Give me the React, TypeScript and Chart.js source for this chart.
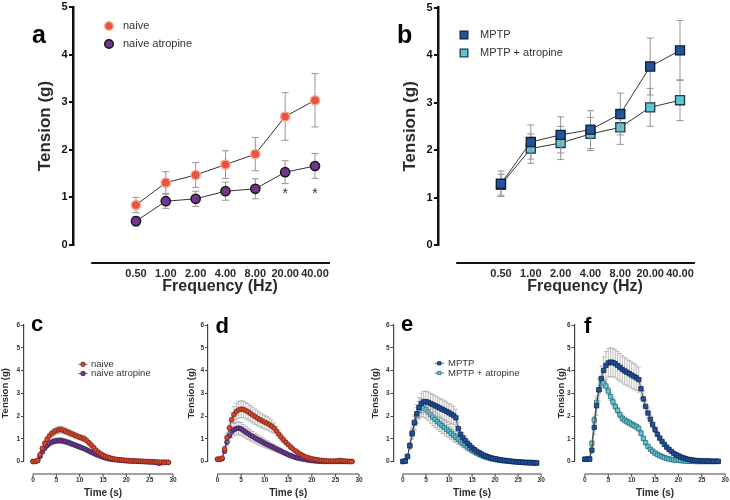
import React, { useEffect, useRef } from "react";
import { Chart, registerables } from "chart.js";

Chart.register(...registerables);

const FONT = "'Liberation Sans', Arial, Helvetica, sans-serif";

// ---------- Frequency panels (a, b) ----------
const FREQ_LABELS = ["0.50", "1.00", "2.00", "4.00", "8.00", "20.00", "40.00"];
const TENSION_TICKS_UPPER = [0, 1, 2, 3, 4, 5];

const NAIVE_FREQ = [0.84, 1.31, 1.47, 1.69, 1.91, 2.7, 3.04];
const NAIVE_FREQ_ERR = [0.16, 0.23, 0.26, 0.29, 0.35, 0.5, 0.56];
const NAIVE_ATR_FREQ = [0.5, 0.92, 0.97, 1.13, 1.18, 1.53, 1.66];
const NAIVE_ATR_FREQ_ERR = [0.1, 0.15, 0.16, 0.19, 0.21, 0.24, 0.26];
const MPTP_FREQ = [1.29, 2.17, 2.32, 2.43, 2.76, 3.76, 4.1];
const MPTP_FREQ_ERR = [0.27, 0.36, 0.38, 0.4, 0.44, 0.6, 0.63];
const MPTP_ATR_FREQ = [1.27, 2.03, 2.15, 2.34, 2.48, 2.9, 3.05];
const MPTP_ATR_FREQ_ERR = [0.22, 0.31, 0.35, 0.35, 0.36, 0.4, 0.43];
const SIG_MARKS = ["", "", "", "", "", "*", "*"];
const SIG_LEVEL = 1.07;

// ---------- Time-course panels (c-f) ----------
const TIME = [0, 0.5, 1, 1.5, 2, 2.5, 3, 3.5, 4, 4.5, 5, 5.5, 6, 6.5, 7, 7.5, 8, 8.5, 9, 9.5, 10, 10.5, 11, 11.5, 12, 12.5, 13, 13.5, 14, 14.5, 15, 15.5, 16, 16.5, 17, 17.5, 18, 18.5, 19, 19.5, 20, 20.5, 21, 21.5, 22, 22.5, 23, 23.5, 24, 24.5, 25, 25.5, 26, 26.5, 27, 27.5, 28, 28.5, 29];
const TIME_TICKS = [0, 5, 10, 15, 20, 25, 30];
const TENSION_TICKS_LOWER = [0, 1, 2, 3, 4, 5, 6];

const C_NAIVE = [0, 0, 0.05, 0.3, 0.58, 0.8, 0.97, 1.12, 1.23, 1.3, 1.36, 1.39, 1.4, 1.37, 1.33, 1.29, 1.24, 1.2, 1.15, 1.11, 1.07, 1.03, 1.0, 0.92, 0.82, 0.72, 0.61, 0.5, 0.41, 0.34, 0.28, 0.23, 0.19, 0.16, 0.13, 0.11, 0.09, 0.08, 0.07, 0.06, 0.05, 0.04, 0.03, 0.03, 0.02, 0.02, 0.01, 0.01, 0, 0, -0.01, -0.01, -0.02, -0.02, -0.03, -0.03, -0.03, -0.04, -0.04];
const C_NAIVE_ERR = [0, 0, 0.02, 0.05, 0.08, 0.1, 0.12, 0.13, 0.14, 0.15, 0.15, 0.15, 0.15, 0.15, 0.14, 0.14, 0.14, 0.13, 0.13, 0.13, 0.12, 0.12, 0.12, 0.11, 0.1, 0.09, 0.08, 0.07, 0.06, 0.05, 0.05, 0.04, 0.04, 0.03, 0.03, 0.03, 0.02, 0.02, 0.02, 0.02, 0.02, 0.02, 0.02, 0.02, 0.02, 0.02, 0.02, 0.02, 0.02, 0.02, 0.02, 0.02, 0.02, 0.02, 0.03, 0.03, 0.03, 0.03, 0.03];
const C_ATR = [0, 0, 0.04, 0.22, 0.42, 0.58, 0.7, 0.79, 0.85, 0.89, 0.91, 0.92, 0.92, 0.9, 0.87, 0.84, 0.8, 0.76, 0.72, 0.68, 0.64, 0.6, 0.56, 0.51, 0.46, 0.41, 0.36, 0.31, 0.27, 0.23, 0.19, 0.16, 0.13, 0.11, 0.09, 0.08, 0.07, 0.06, 0.05, 0.04, 0.03, 0.03, 0.02, 0.02, 0.01, 0.01, 0, 0, -0.01, -0.01, -0.02, -0.02, -0.03, -0.04, -0.08, -0.05, -0.04, -0.04, -0.04];
const C_ATR_ERR = [0, 0, 0.02, 0.04, 0.07, 0.09, 0.1, 0.11, 0.12, 0.12, 0.12, 0.12, 0.12, 0.12, 0.11, 0.11, 0.11, 0.1, 0.1, 0.1, 0.09, 0.09, 0.08, 0.08, 0.07, 0.07, 0.06, 0.05, 0.05, 0.04, 0.04, 0.03, 0.03, 0.03, 0.02, 0.02, 0.02, 0.02, 0.02, 0.02, 0.02, 0.02, 0.02, 0.02, 0.02, 0.02, 0.02, 0.02, 0.02, 0.02, 0.02, 0.02, 0.02, 0.03, 0.06, 0.03, 0.02, 0.02, 0.02];

const D_NAIVE = [0.1, 0.1, 0.15, 0.55, 1.05, 1.48, 1.84, 2.06, 2.2, 2.27, 2.3, 2.29, 2.24, 2.18, 2.11, 2.04, 1.97, 1.9, 1.84, 1.78, 1.73, 1.68, 1.62, 1.55, 1.47, 1.34, 1.2, 1.07, 0.95, 0.84, 0.74, 0.64, 0.55, 0.47, 0.4, 0.33, 0.27, 0.22, 0.18, 0.15, 0.12, 0.1, 0.08, 0.06, 0.05, 0.04, 0.03, 0.02, 0.02, 0.02, 0.02, 0.03, 0.05, 0.03, 0.02, 0.01, 0, 0];
const D_NAIVE_ERR = [0.02, 0.02, 0.04, 0.12, 0.2, 0.27, 0.32, 0.35, 0.36, 0.37, 0.37, 0.37, 0.36, 0.36, 0.35, 0.35, 0.34, 0.33, 0.32, 0.31, 0.3, 0.29, 0.28, 0.26, 0.23, 0.2, 0.17, 0.14, 0.12, 0.1, 0.08, 0.07, 0.06, 0.05, 0.04, 0.04, 0.03, 0.03, 0.02, 0.02, 0.02, 0.02, 0.02, 0.02, 0.02, 0.02, 0.02, 0.02, 0.02, 0.02, 0.02, 0.02, 0.02, 0.02, 0.02, 0.02, 0.02, 0.02];
const D_ATR = [0.1, 0.1, 0.12, 0.45, 0.85, 1.12, 1.3, 1.4, 1.45, 1.47, 1.43, 1.36, 1.29, 1.22, 1.15, 1.09, 1.03, 0.97, 0.92, 0.86, 0.8, 0.75, 0.7, 0.65, 0.6, 0.55, 0.5, 0.45, 0.4, 0.35, 0.3, 0.26, 0.22, 0.18, 0.15, 0.13, 0.11, 0.09, 0.07, 0.05, 0.04, 0.03, 0.02, 0.01, 0.01, 0, 0, 0, 0, 0, 0, 0, 0, 0, 0, 0, 0, 0];
const D_ATR_ERR = [0.02, 0.02, 0.03, 0.1, 0.17, 0.22, 0.25, 0.27, 0.28, 0.28, 0.28, 0.27, 0.26, 0.25, 0.24, 0.23, 0.22, 0.21, 0.2, 0.19, 0.18, 0.17, 0.16, 0.15, 0.14, 0.13, 0.12, 0.11, 0.1, 0.09, 0.08, 0.07, 0.06, 0.05, 0.04, 0.04, 0.03, 0.03, 0.02, 0.02, 0.02, 0.02, 0.02, 0.02, 0.02, 0.02, 0.02, 0.02, 0.02, 0.02, 0.02, 0.02, 0.02, 0.02, 0.02, 0.02, 0.02, 0.02];

const E_MPTP = [0, 0.02, 0.22, 0.7, 1.25, 1.72, 2.1, 2.38, 2.55, 2.62, 2.63, 2.6, 2.55, 2.5, 2.45, 2.4, 2.35, 2.3, 2.25, 2.2, 2.14, 2.08, 2.02, 1.92, 1.45, 1.2, 1.05, 0.92, 0.8, 0.7, 0.6, 0.52, 0.45, 0.39, 0.33, 0.28, 0.24, 0.2, 0.17, 0.14, 0.12, 0.1, 0.08, 0.06, 0.05, 0.04, 0.02, 0.01, 0, -0.01, -0.02, -0.03, -0.04, -0.05, -0.05, -0.06, -0.06, -0.07, -0.07];
const E_MPTP_ERR = [0.01, 0.02, 0.06, 0.15, 0.25, 0.33, 0.39, 0.43, 0.45, 0.46, 0.46, 0.46, 0.45, 0.45, 0.44, 0.44, 0.43, 0.43, 0.42, 0.42, 0.41, 0.41, 0.4, 0.38, 0.3, 0.25, 0.21, 0.18, 0.15, 0.13, 0.11, 0.09, 0.08, 0.07, 0.06, 0.05, 0.04, 0.04, 0.03, 0.03, 0.02, 0.02, 0.02, 0.02, 0.02, 0.02, 0.02, 0.02, 0.02, 0.02, 0.02, 0.02, 0.02, 0.02, 0.02, 0.02, 0.02, 0.02, 0.02];
const E_ATR = [0, 0.02, 0.22, 0.68, 1.2, 1.68, 2.02, 2.25, 2.36, 2.35, 2.28, 2.18, 2.06, 1.95, 1.85, 1.75, 1.66, 1.57, 1.49, 1.41, 1.33, 1.24, 1.15, 1.07, 0.98, 0.89, 0.8, 0.72, 0.64, 0.56, 0.49, 0.43, 0.37, 0.32, 0.27, 0.23, 0.19, 0.16, 0.13, 0.11, 0.09, 0.07, 0.05, 0.04, 0.03, 0.02, 0.01, 0, -0.01, -0.01, -0.02, -0.02, -0.03, -0.03, -0.04, -0.04, -0.04, -0.05, -0.05];
const E_ATR_ERR = [0.01, 0.02, 0.06, 0.14, 0.22, 0.3, 0.35, 0.38, 0.4, 0.4, 0.4, 0.39, 0.38, 0.37, 0.36, 0.35, 0.34, 0.33, 0.32, 0.31, 0.3, 0.28, 0.27, 0.25, 0.23, 0.21, 0.19, 0.17, 0.15, 0.13, 0.11, 0.09, 0.08, 0.07, 0.06, 0.05, 0.04, 0.04, 0.03, 0.03, 0.02, 0.02, 0.02, 0.02, 0.02, 0.02, 0.02, 0.02, 0.02, 0.02, 0.02, 0.02, 0.02, 0.02, 0.02, 0.02, 0.02, 0.02, 0.02];

const F_MPTP = [0.1, 0.1, 0.1, 0.5, 1.5, 2.45, 3.15, 3.65, 4.0, 4.22, 4.33, 4.37, 4.35, 4.3, 4.22, 4.14, 4.05, 3.98, 3.92, 3.86, 3.8, 3.74, 3.68, 3.6, 3.2, 2.75, 2.42, 2.13, 1.86, 1.62, 1.4, 1.2, 1.03, 0.88, 0.75, 0.63, 0.53, 0.44, 0.36, 0.3, 0.25, 0.2, 0.16, 0.13, 0.1, 0.08, 0.06, 0.05, 0.04, 0.03, 0.03, 0.02, 0.02, 0.02, 0.01, 0.01, 0.01, 0.01];
const F_MPTP_ERR = [0.02, 0.02, 0.02, 0.15, 0.3, 0.42, 0.5, 0.55, 0.6, 0.62, 0.63, 0.63, 0.63, 0.62, 0.62, 0.61, 0.6, 0.6, 0.59, 0.58, 0.58, 0.57, 0.56, 0.55, 0.45, 0.35, 0.28, 0.22, 0.18, 0.15, 0.12, 0.1, 0.08, 0.07, 0.06, 0.05, 0.04, 0.04, 0.03, 0.03, 0.02, 0.02, 0.02, 0.02, 0.02, 0.02, 0.02, 0.02, 0.02, 0.02, 0.02, 0.02, 0.02, 0.02, 0.02, 0.02, 0.02, 0.02];
const F_ATR = [0.1, 0.1, 0.12, 0.8, 1.82, 2.6, 3.15, 3.42, 3.45, 3.32, 3.1, 2.85, 2.62, 2.42, 2.25, 2.05, 1.9, 1.82, 1.75, 1.7, 1.64, 1.59, 1.53, 1.45, 1.25, 1.02, 0.82, 0.66, 0.54, 0.45, 0.37, 0.31, 0.26, 0.21, 0.17, 0.14, 0.11, 0.09, 0.07, 0.06, 0.05, 0.04, 0.03, 0.02, 0.02, 0.01, 0.01, 0, 0, 0, 0, 0, 0, 0, 0, 0, 0, 0];
const F_ATR_ERR = [0.02, 0.02, 0.03, 0.1, 0.15, 0.18, 0.2, 0.2, 0.2, 0.19, 0.18, 0.17, 0.16, 0.15, 0.14, 0.13, 0.13, 0.13, 0.13, 0.13, 0.13, 0.13, 0.13, 0.12, 0.1, 0.08, 0.07, 0.06, 0.05, 0.04, 0.04, 0.03, 0.03, 0.03, 0.02, 0.02, 0.02, 0.02, 0.02, 0.02, 0.02, 0.02, 0.02, 0.02, 0.02, 0.02, 0.02, 0.02, 0.02, 0.02, 0.02, 0.02, 0.02, 0.02, 0.02, 0.02, 0.02, 0.02];

// ---------- styles ----------
const STYLE = {
  naiveUpper: { pointStyle: "circle", r: 4.6, bg: "#E8553F", border: "#F4A894", bw: 1.5 },
  atrUpper: { pointStyle: "circle", r: 4.6, bg: "#73368F", border: "#161616", bw: 1.5 },
  mptpUpper: { pointStyle: "rect", r: 6.4, bg: "#24539E", border: "#0d1d3a", bw: 1.3 },
  mptpAtrUpper: { pointStyle: "rect", r: 6.4, bg: "#5DC7D6", border: "#1d3a48", bw: 1.3 },
  naiveLower: { pointStyle: "circle", r: 2.35, bg: "#D9452F", border: "#7c2515", bw: 0.8 },
  atrLower: { pointStyle: "circle", r: 2.35, bg: "#6E3B8E", border: "#3a1a50", bw: 0.8 },
  mptpLower: { pointStyle: "rect", r: 3.1, bg: "#24529C", border: "#0f2a55", bw: 0.8 },
  mptpAtrLower: { pointStyle: "rect", r: 3.1, bg: "#5DC5D3", border: "#2a6a7a", bw: 0.8 },
};

function drawMarker(ctx: CanvasRenderingContext2D, style: string, x: number, y: number, r: number, bg: string, border: string, bw: number) {
  ctx.beginPath();
  if (style === "rect") {
    const s = r * Math.SQRT1_2;
    ctx.rect(x - s, y - s, 2 * s, 2 * s);
  } else {
    ctx.arc(x, y, r, 0, Math.PI * 2);
  }
  ctx.fillStyle = bg;
  ctx.fill();
  if (bw > 0) {
    ctx.lineWidth = bw;
    ctx.strokeStyle = border;
    ctx.stroke();
  }
}

function makeErrorBars(color: string, width: number, cap: number) {
  return {
    id: "errbars",
    beforeDatasetDraw(chart: any, args: any) {
      const ds = chart.data.datasets[args.index];
      if (!ds.errors) return;
      const ys = chart.scales.y;
      const ctx = chart.ctx;
      ctx.save();
      ctx.strokeStyle = color;
      ctx.lineWidth = width;
      ctx.beginPath();
      args.meta.data.forEach((pt: any, i: number) => {
        const v = ds.data[i].y;
        const e = ds.errors[i];
        if (e == null || v == null) return;
        const x = pt.x;
        const yt = ys.getPixelForValue(v + e);
        const yb = ys.getPixelForValue(v - e);
        ctx.moveTo(x, yt);
        ctx.lineTo(x, yb);
        ctx.moveTo(x - cap, yt);
        ctx.lineTo(x + cap, yt);
        ctx.moveTo(x - cap, yb);
        ctx.lineTo(x + cap, yb);
      });
      ctx.stroke();
      ctx.restore();
    },
  };
}

function makeDeco(o: any) {
  return {
    id: "deco",
    afterDraw(chart: any) {
      const ctx = chart.ctx;
      const xs = chart.scales.x;
      const ys = chart.scales.y;
      const area = chart.chartArea;
      ctx.save();
      // offset x axis
      const ay = area.bottom + o.axisOffset;
      ctx.strokeStyle = o.axisColor;
      ctx.lineWidth = o.axisWidth;
      ctx.beginPath();
      ctx.moveTo(xs.getPixelForValue(o.axisFrom), ay);
      ctx.lineTo(xs.getPixelForValue(o.axisTo), ay);
      ctx.stroke();
      if (o.axisTickLen > 0) {
        ctx.lineWidth = 1;
        ctx.beginPath();
        for (const v of o.axisTicks) {
          const x = xs.getPixelForValue(v);
          ctx.moveTo(x, ay);
          ctx.lineTo(x, ay + o.axisTickLen);
        }
        ctx.stroke();
      }
      // x title
      ctx.fillStyle = "#2b2b2b";
      ctx.font = `bold ${o.xTitleSize}px ${FONT}`;
      ctx.textAlign = "center";
      ctx.textBaseline = "middle";
      ctx.fillText(o.xTitle, xs.getPixelForValue(o.xTitleAt), o.xTitleY);
      // panel letter
      ctx.fillStyle = "#000";
      ctx.font = `bold ${o.letterSize}px ${FONT}`;
      ctx.textAlign = "left";
      ctx.textBaseline = "alphabetic";
      ctx.fillText(o.letter, o.letterX, o.letterY);
      // legend
      if (o.showLegend) {
        chart.data.datasets.forEach((ds: any, i: number) => {
          const y = o.legendY + i * o.legendDy;
          if (o.legendLine) {
            ctx.strokeStyle = "#333";
            ctx.lineWidth = 0.8;
            ctx.beginPath();
            ctx.moveTo(o.legendX - 4.5, y);
            ctx.lineTo(o.legendX + 4.5, y);
            ctx.stroke();
          }
          drawMarker(ctx, ds.pointStyle, o.legendX, y, o.legendRadius, ds.pointBackgroundColor, ds.pointBorderColor, ds.pointBorderWidth);
          ctx.fillStyle = "#333";
          ctx.font = `${o.legendSize}px ${FONT}`;
          ctx.textAlign = "left";
          ctx.textBaseline = "middle";
          ctx.fillText(ds.label, o.legendTextX, y);
        });
      }
      // significance marks
      if (o.stars) {
        ctx.fillStyle = "#333";
        ctx.font = `${o.starSize}px ${FONT}`;
        ctx.textAlign = "center";
        ctx.textBaseline = "middle";
        o.stars.forEach((s: string, i: number) => {
          if (!s) return;
          ctx.fillText(s, xs.getPixelForValue(i), ys.getPixelForValue(o.starLevel));
        });
      }
      ctx.restore();
    },
  };
}

function dataset(label: string, xs: number[], ys: number[], errs: number[], st: any, lineColor: string, lineWidth: number) {
  return {
    label,
    data: ys.map((v, i) => ({ x: xs[i], y: v })),
    errors: errs,
    pointStyle: st.pointStyle,
    pointRadius: st.r,
    pointBackgroundColor: st.bg,
    pointBorderColor: st.border,
    pointBorderWidth: st.bw,
    borderColor: lineColor,
    borderWidth: lineWidth,
    tension: 0,
    fill: false,
    clip: false,
  };
}

const INDEX = FREQ_LABELS.map((_, i) => i);

function buildUpper(datasets: any[], deco: any) {
  const tickFont = { family: FONT, size: 11, weight: "bold" as const };
  return {
    type: "line" as const,
    data: { datasets },
    options: {
      responsive: false,
      animation: false as const,
      events: [],
      layout: { padding: { top: 7, right: 30, bottom: 0, left: 0 } },
      plugins: { legend: { display: false }, tooltip: { enabled: false } },
      scales: {
        x: {
          type: "linear" as const,
          min: -2.11,
          max: 6.67,
          afterBuildTicks: (s: any) => {
            s.ticks = INDEX.map((v) => ({ value: v }));
          },
          afterFit: (s: any) => {
            s.height = 55;
            s.paddingLeft = 0;
            s.paddingRight = 0;
          },
          ticks: {
            autoSkip: false,
            maxRotation: 0,
            minRotation: 0,
            padding: 22.5,
            color: "#2b2b2b",
            font: tickFont,
            callback: (v: any) => FREQ_LABELS[v],
          },
          grid: { display: false, drawTicks: false },
          border: { display: false },
        },
        y: {
          min: 0,
          max: 5,
          afterBuildTicks: (s: any) => {
            s.ticks = TENSION_TICKS_UPPER.map((v) => ({ value: v }));
          },
          afterFit: (s: any) => {
            s.width = 73;
            s.paddingTop = 0;
            s.paddingBottom = 0;
          },
          ticks: { padding: 1.5, color: "#111", font: { family: FONT, size: 11, weight: "bold" as const } },
          grid: { display: true, drawOnChartArea: false, drawTicks: true, tickLength: 4, color: "#111", lineWidth: 2 },
          border: { display: true, color: "#111", width: 2.5 },
          title: {
            display: true,
            text: "Tension (g)",
            color: "#2b2b2b",
            font: { family: FONT, size: 17, weight: "bold" as const },
            padding: { top: 34.8, bottom: 0 },
          },
        },
      },
    },
    plugins: [makeErrorBars("#959595", 1, 3.5), makeDeco(deco)],
  };
}

function buildLower(datasets: any[], p: any, deco: any) {
  return {
    type: "line" as const,
    data: { datasets },
    options: {
      responsive: false,
      animation: false as const,
      events: [],
      layout: { padding: { top: 15, right: p.right, bottom: 0, left: 0 } },
      plugins: { legend: { display: false }, tooltip: { enabled: false } },
      scales: {
        x: {
          type: "linear" as const,
          min: p.xMin,
          max: 30,
          afterBuildTicks: (s: any) => {
            s.ticks = TIME_TICKS.map((v) => ({ value: v }));
          },
          afterFit: (s: any) => {
            s.height = 38.5;
            s.paddingLeft = 0;
            s.paddingRight = 0;
          },
          ticks: {
            autoSkip: false,
            maxRotation: 0,
            minRotation: 0,
            padding: 15.3,
            color: "#333",
            font: { family: FONT, size: 6.5, weight: "bold" as const },
          },
          grid: { display: false, drawTicks: false },
          border: { display: false },
        },
        y: {
          min: 0,
          max: 6,
          afterBuildTicks: (s: any) => {
            s.ticks = TENSION_TICKS_LOWER.map((v) => ({ value: v }));
          },
          afterFit: (s: any) => {
            s.width = p.left;
            s.paddingTop = 0;
            s.paddingBottom = 0;
          },
          ticks: { padding: 0.8, color: "#333", font: { family: FONT, size: 6.5, weight: "bold" as const } },
          grid: { display: true, drawOnChartArea: false, drawTicks: true, tickLength: 3, color: "#444", lineWidth: 1 },
          border: { display: true, color: "#444", width: 1.2 },
          title: {
            display: true,
            text: "Tension (g)",
            color: "#2b2b2b",
            font: { family: FONT, size: 9.5, weight: "bold" as const },
            padding: { top: p.titlePad, bottom: 0 },
          },
        },
      },
    },
    plugins: [makeErrorBars("#a0a0a0", 0.7, 2), makeDeco(deco)],
  };
}

const upperDeco = (letter: string, lx: number, ly: number, ldy: number, ltx: number, lr: number, stars?: string[]) => ({
  axisFrom: -1.5,
  axisTo: 6.5,
  axisOffset: 18,
  axisColor: "#111",
  axisWidth: 2,
  axisTicks: [],
  axisTickLen: 0,
  xTitle: "Frequency (Hz)",
  xTitleAt: 2.82,
  xTitleY: 287,
  xTitleSize: 16,
  letter,
  letterX: 32,
  letterY: 43,
  letterSize: 25,
  showLegend: true,
  legendX: lx,
  legendY: ly,
  legendDy: ldy,
  legendTextX: ltx,
  legendSize: 11,
  legendLine: false,
  legendRadius: lr,
  stars,
  starLevel: SIG_LEVEL,
  starSize: 14,
});

const lowerDeco = (letter: string, lx: number, ly: number, showLegend: boolean, legX: number, legY: number, legDy: number, legTextX: number) => ({
  axisFrom: 0,
  axisTo: 30,
  axisOffset: 12.5,
  axisColor: "#444",
  axisWidth: 1.2,
  axisTicks: TIME_TICKS,
  axisTickLen: 3,
  xTitle: "Time (s)",
  xTitleAt: 15,
  xTitleY: 183,
  xTitleSize: 10,
  letter,
  letterX: lx,
  letterY: ly,
  letterSize: 22,
  showLegend,
  legendX: legX,
  legendY: legY,
  legendDy: legDy,
  legendTextX: legTextX,
  legendSize: 9.5,
  legendLine: true,
  legendRadius: 2.3,
});

function ChartBox({ left, top, width, height, make }: { left: number; top: number; width: number; height: number; make: () => any }) {
  const ref = useRef<HTMLCanvasElement>(null);
  useEffect(() => {
    const chart = new Chart(ref.current as HTMLCanvasElement, make());
    return () => chart.destroy();
  }, []);
  return (
    <div style={{ position: "absolute", left, top, width, height }}>
      <canvas ref={ref} width={width} height={height} style={{ width, height, display: "block" }} />
    </div>
  );
}

export default function App() {
  return (
    <div style={{ position: "absolute", left: 0, top: 0, width: 730, height: 500, background: "#fff" }}>
      <ChartBox
        left={0}
        top={0}
        width={365}
        height={300}
        make={() =>
          buildUpper(
            [
              dataset("naive", INDEX, NAIVE_FREQ, NAIVE_FREQ_ERR, STYLE.naiveUpper, "#333", 1),
              dataset("naive atropine", INDEX, NAIVE_ATR_FREQ, NAIVE_ATR_FREQ_ERR, STYLE.atrUpper, "#333", 1),
            ],
            upperDeco("a", 109, 26, 18, 123, 4.3, SIG_MARKS)
          )
        }
      />
      <ChartBox
        left={365}
        top={0}
        width={365}
        height={300}
        make={() =>
          buildUpper(
            [
              dataset("MPTP", INDEX, MPTP_FREQ, MPTP_FREQ_ERR, STYLE.mptpUpper, "#333", 1),
              dataset("MPTP + atropine", INDEX, MPTP_ATR_FREQ, MPTP_ATR_FREQ_ERR, STYLE.mptpAtrUpper, "#333", 1),
            ],
            upperDeco("b", 99, 35, 18, 115, 5.4)
          )
        }
      />
      <ChartBox
        left={0}
        top={310}
        width={182}
        height={190}
        make={() =>
          buildLower(
            [
              dataset("naive", TIME, C_NAIVE, C_NAIVE_ERR, STYLE.naiveLower, "#333", 0.8),
              dataset("naive atropine", TIME, C_ATR, C_ATR_ERR, STYLE.atrLower, "#333", 0.8),
            ],
            { left: 24, right: 9, xMin: -1.93, titlePad: 0 },
            lowerDeco("c", 31, 21, true, 83, 54.3, 9.2, 91)
          )
        }
      />
      <ChartBox
        left={182}
        top={310}
        width={182}
        height={190}
        make={() =>
          buildLower(
            [
              dataset("naive", TIME, D_NAIVE, D_NAIVE_ERR, STYLE.naiveLower, "#333", 0.8),
              dataset("naive atropine", TIME, D_ATR, D_ATR_ERR, STYLE.atrLower, "#333", 0.8),
            ],
            { left: 26, right: 5, xMin: -2.01, titlePad: 4 },
            lowerDeco("d", 33.5, 22.5, false, 0, 0, 0, 0)
          )
        }
      />
      <ChartBox
        left={364}
        top={310}
        width={182}
        height={190}
        make={() =>
          buildLower(
            [
              dataset("MPTP", TIME, E_MPTP, E_MPTP_ERR, STYLE.mptpLower, "#333", 0.8),
              dataset("MPTP + atropine", TIME, E_ATR, E_ATR_ERR, STYLE.mptpAtrLower, "#333", 0.8),
            ],
            { left: 29.5, right: 3, xMin: -2.04, titlePad: 5.3 },
            lowerDeco("e", 37, 20.5, true, 75.3, 53.3, 9.7, 84)
          )
        }
      />
      <ChartBox
        left={546}
        top={310}
        width={184}
        height={190}
        make={() =>
          buildLower(
            [
              dataset("MPTP", TIME, F_MPTP, F_MPTP_ERR, STYLE.mptpLower, "#333", 0.8),
              dataset("MPTP + atropine", TIME, F_ATR, F_ATR_ERR, STYLE.mptpAtrLower, "#333", 0.8),
            ],
            { left: 28.5, right: 3, xMin: -2.22, titlePad: 9.3 },
            lowerDeco("f", 38, 22.5, false, 0, 0, 0, 0)
          )
        }
      />
    </div>
  );
}
